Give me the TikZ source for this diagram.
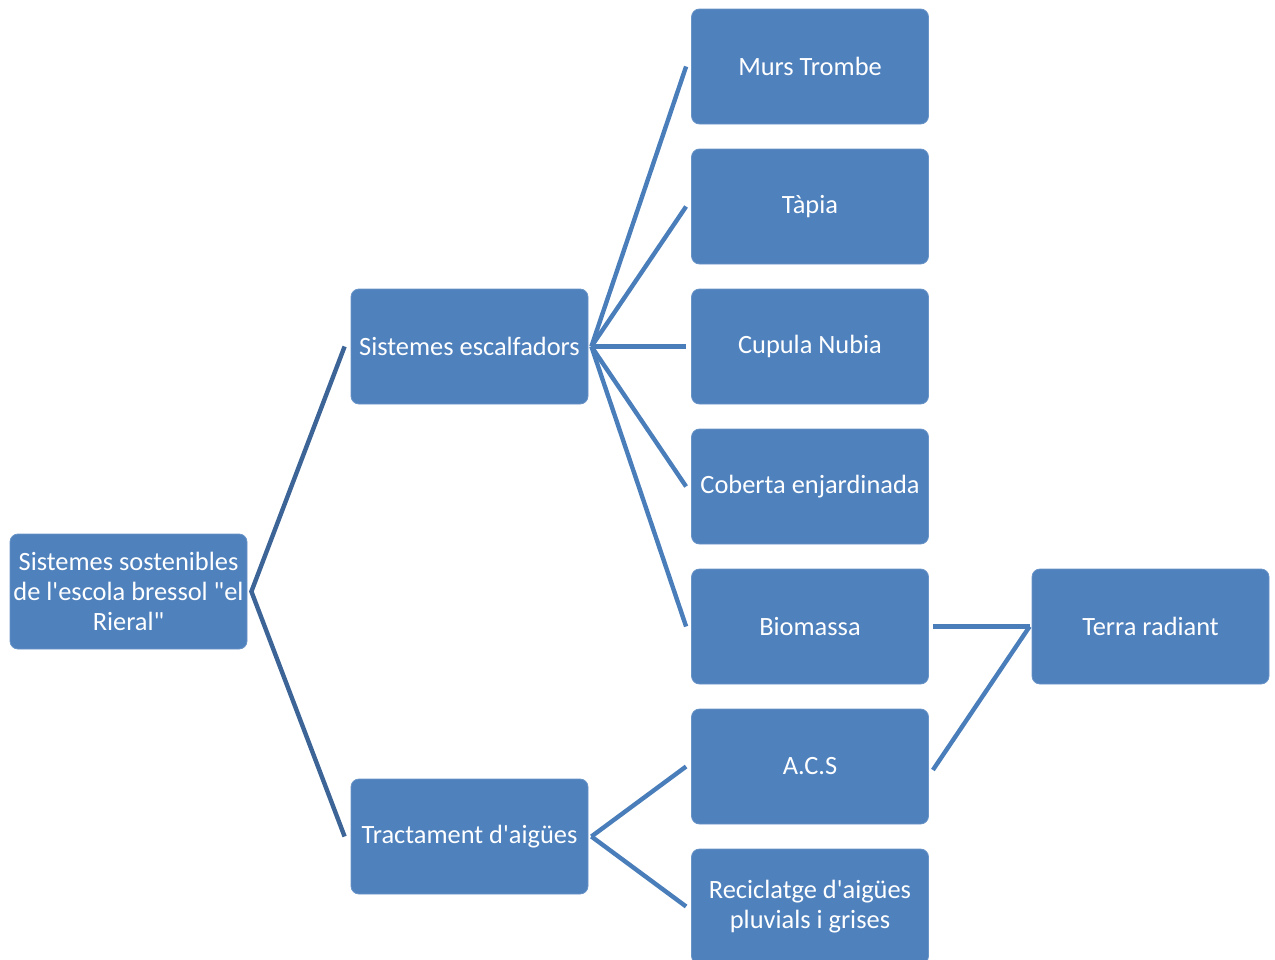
\documentclass[tikz,border=0pt]{standalone}
\usepackage{fontspec}
\setmainfont{Carlito}[Ligatures=TeXOff]
\definecolor{boxblue}{RGB}{79,129,189}
\definecolor{linkblue}{RGB}{74,126,187}
\definecolor{darklink}{RGB}{60,100,150}
\begin{document}
\begin{tikzpicture}[x=0.75pt,y=-0.75pt,
  box/.style={draw=boxblue!85!white,line width=0.6pt,fill=boxblue,rounded corners=6pt,
    minimum width=177.75pt,minimum height=86.25pt,inner sep=1pt,
    text=white,align=center,font=\fontsize{19.8}{22.5}\selectfont},
  link/.style={draw=linkblue,line width=3.3pt},
  rootlink/.style={draw=darklink,line width=3.3pt}]
\clip (0,0) rectangle (1275,960);
\node[box] (root) at (128.5,591.5) {Sistemes sostenibles\\de l'escola bressol "el\\Rieral"};
\node[box] (esc) at (469.5,346.5) {Sistemes escalfadors};
\node[box] (tra) at (469.5,836.5) {Tractament d'aigües};
\node[box] (murs) at (810,66.5) {Murs Trombe};
\node[box] (tapia) at (810,206.5) {Tàpia};
\node[box] (cup) at (810,346.5) {Cupula Nubia};
\node[box] (cob) at (810,486.5) {Coberta enjardinada};
\node[box] (bio) at (810,626.5) {Biomassa};
\node[box] (acs) at (810,766.5) {A.C.S};
\node[box] (rec) at (810,906.5) {Reciclatge d'aigües\\pluvials i grises};
\node[box] (terra) at (1150.5,626.5) {Terra radiant};
\coordinate (rootV) at ([xshift=3pt]root.east);
\coordinate (escV) at ([xshift=2.25pt]esc.east);
\coordinate (traV) at ([xshift=2.25pt]tra.east);
\draw[rootlink] ([xshift=-4.5pt]esc.west) -- (rootV) -- ([xshift=-4.5pt]tra.west);
\foreach \n in {murs,tapia,cup,cob,bio}
  \draw[link,line join=bevel] (escV) -- ([xshift=-3.75pt]\n.west);
\foreach \n in {acs,rec}
  \draw[link] (traV) -- ([xshift=-3.75pt]\n.west);
\coordinate (terraV) at ([xshift=-1.5pt]terra.west);
\draw[link] ([xshift=3pt]bio.east) -- (terraV);
\draw[link] ([xshift=3pt,yshift=-2.6pt]acs.east) -- (terraV);
\end{tikzpicture}
\end{document}
